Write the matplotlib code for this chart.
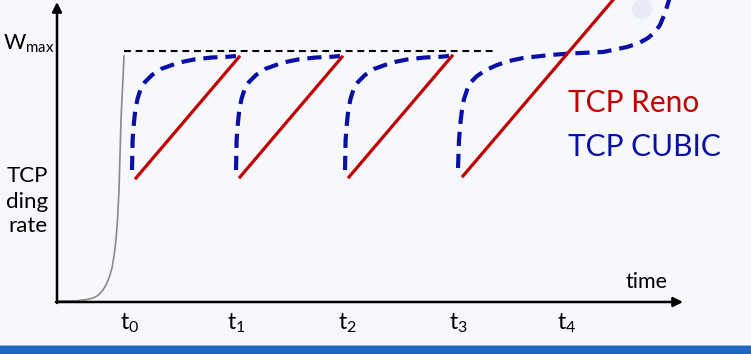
import numpy as np
import matplotlib.pyplot as plt
from matplotlib.patches import Rectangle, Circle

plt.rcParams['font.family'] = ['Lato', 'DejaVu Sans']
plt.rcParams['mathtext.fontset'] = 'custom'
plt.rcParams['mathtext.rm'] = 'Lato'

# axes origin = lower-left corner of the drawn axes, units ~ screen pixels
W_MAX = 251
tick_pos = [73, 179, 290, 401, 510]
tick_names = ['t_0', 't_1', 't_2', 't_3', 't_4']

# slow start (gray)
slow_t = [1, 20, 30, 36, 40, 43, 46, 49, 52, 55, 57, 59, 60.5, 62, 64, 67]
slow_w = [1, 1.2, 2.5, 4, 6, 8.5, 12, 17, 24, 34, 46, 62, 82, 112, 182, 246]

# TCP Reno saw-tooth segments (start_t, start_w, end_t, end_w)
reno_t0 = [79, 183, 292, 406]
reno_w0 = [124, 125, 125, 126]
reno_t1 = [182, 285, 395, 556]
reno_w1 = [245, 245, 246, 302]

# TCP CUBIC, one cycle (offsets from cycle start)
cubic_dt = [0, 0.6, 2, 3.3, 5.5, 8.3, 13, 20, 29, 40, 52, 63, 80, 96.6, 104]
cubic_w = [132, 162, 180, 192, 203, 212, 220, 227, 233, 237, 240.5, 242.7, 244.5, 245.3, 246]
cubic_start = [75, 179, 288]
# last cycle, runs past W_max
cubic_last_t = [401, 402, 403.5, 405, 407, 410, 414, 420, 429, 440, 452, 466, 493, 516, 546,
                570, 582, 591, 598, 603, 608, 612, 615]
cubic_last_w = [134, 162, 180, 192, 203, 212, 220, 226, 232, 237, 241, 244, 247, 248.7, 250,
                255, 259, 264, 270, 277, 289, 302, 312]

RED = '#c00000'
BLUE = '#0a0fa5'

fig = plt.figure(figsize=(7.51, 3.54), dpi=100)
fig.patch.set_facecolor('#f7f8fc')
ax = fig.add_axes([0, 0, 1, 1])
ax.set_xlim(-57, 694)
ax.set_ylim(-52, 302)
ax.axis('off')

# decoration: bottom bar and small dot
fig.patches.append(Rectangle((0, 0), 1, 8 / 354, transform=fig.transFigure,
                             facecolor='#1f66bf', edgecolor='none'))
fig.patches.append(Rectangle((0, 8 / 354), 1, 1.2 / 354, transform=fig.transFigure,
                             facecolor='#8fb6e3', edgecolor='none'))
ax.add_patch(Circle((585, 293), 10, facecolor='#e8eaf6', edgecolor='none', zorder=0))

# axes with arrows
ax.annotate('', xy=(0, 300), xytext=(0, -1),
            arrowprops=dict(arrowstyle='-|>', lw=1.8, color='black', mutation_scale=14,
                            shrinkA=0, shrinkB=0))
ax.annotate('', xy=(626, 0), xytext=(-1, 0),
            arrowprops=dict(arrowstyle='-|>', lw=1.8, color='black', mutation_scale=14,
                            shrinkA=0, shrinkB=0))

# W_max reference
ax.plot([67, 438], [W_MAX, W_MAX], color='black', lw=1.5, dashes=(3.3, 2.3))

ax.plot(slow_t, slow_w, color='#8a8a8a', lw=1.2)

for s in cubic_start:
    ax.plot(np.array(cubic_dt) + s, cubic_w, color=BLUE, lw=3, dashes=(3.4, 1.9))
ax.plot(cubic_last_t, cubic_last_w, color=BLUE, lw=3, dashes=(3.4, 1.9))

for a, b, c, d in zip(reno_t0, reno_w0, reno_t1, reno_w1):
    ax.plot([a, c], [b, d], color=RED, lw=2.3)

# labels
ax.text(-54, W_MAX + 1, r'$\mathregular{W_{max}}$', fontsize=15.5, ha='left', va='baseline')
for y, s in zip([120, 94, 70], ['TCP', 'ding', 'rate']):
    ax.text(-9, y, s, fontsize=16, ha='right', va='baseline')
ax.text(589, 14, 'time', fontsize=15.5, ha='center', va='baseline')
for x, s in zip(tick_pos, tick_names):
    ax.text(x, -27, r'$\mathregular{' + s + '}$', fontsize=16.5, ha='center', va='baseline')

ax.text(511, 190, 'TCP Reno', color=RED, fontsize=21.5, va='baseline')
ax.text(511, 146, 'TCP CUBIC', color=BLUE, fontsize=21.5, va='baseline')

plt.savefig('out.png', dpi=100, facecolor=fig.get_facecolor())
